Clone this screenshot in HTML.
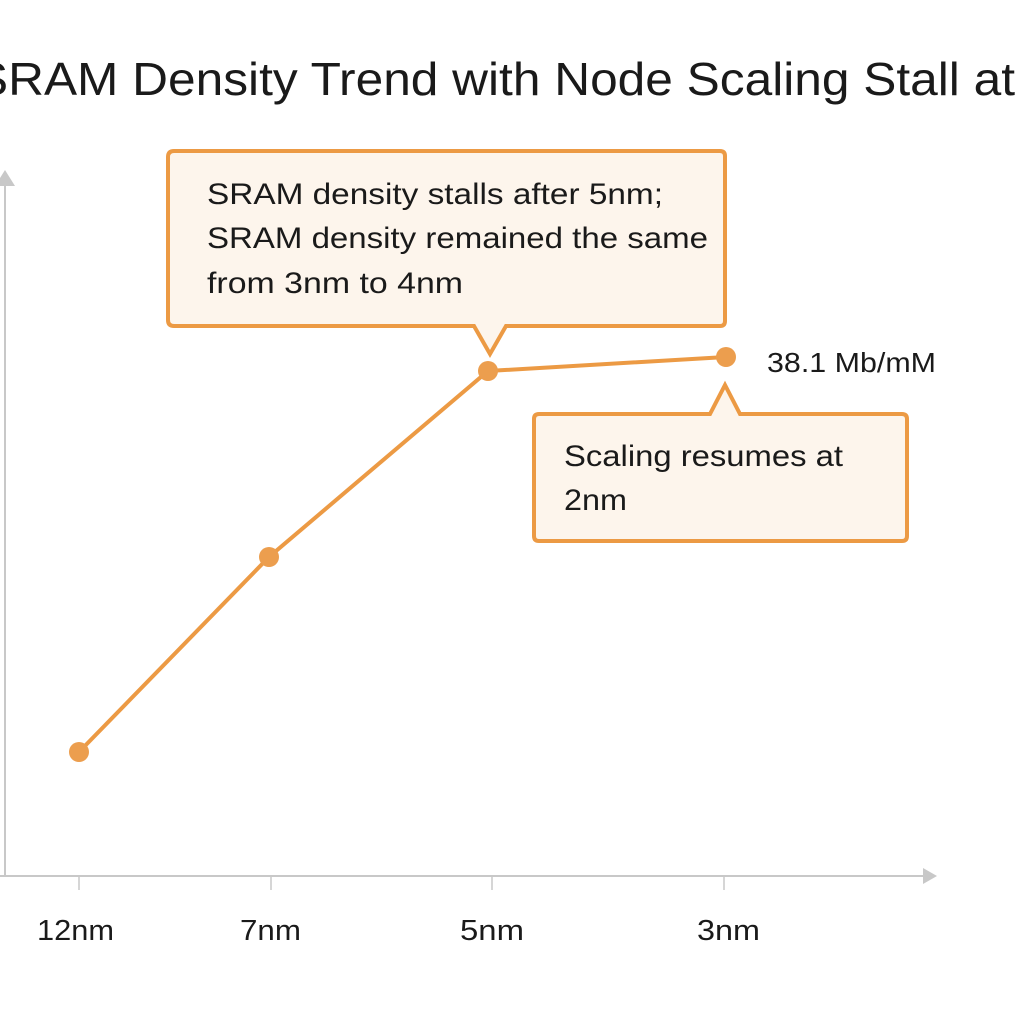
<!DOCTYPE html>
<html><head><meta charset="utf-8"><style>
html,body{margin:0;padding:0;background:#fff;}
svg{display:block;}
text{font-family:"Liberation Sans",sans-serif;fill:#1a1a1a;}
</style></head><body>
<svg width="1024" height="1024" viewBox="0 0 1024 1024" xmlns="http://www.w3.org/2000/svg">
<rect width="1024" height="1024" fill="#fff"/>
<text x="-25" y="95" font-size="46" textLength="1040" lengthAdjust="spacingAndGlyphs" fill="#222">SRAM Density Trend with Node Scaling Stall at</text>
<!-- axes -->
<line x1="5" y1="178" x2="5" y2="876" stroke="#c8c8c8" stroke-width="2"/>
<polygon points="-5,186 5,170 15,186" fill="#c8c8c8"/>
<line x1="0" y1="876" x2="925" y2="876" stroke="#c8c8c8" stroke-width="2"/>
<polygon points="923,868 937,876 923,884" fill="#c8c8c8"/>
<g stroke="#c8c8c8" stroke-width="1.5">
<line x1="79" y1="876" x2="79" y2="890"/><line x1="271" y1="876" x2="271" y2="890"/>
<line x1="492" y1="876" x2="492" y2="890"/><line x1="724" y1="876" x2="724" y2="890"/>
</g>
<g font-size="29" lengthAdjust="spacingAndGlyphs">
<text x="37" y="940" textLength="77" lengthAdjust="spacingAndGlyphs">12nm</text>
<text x="240" y="940" textLength="61" lengthAdjust="spacingAndGlyphs">7nm</text>
<text x="460" y="940" textLength="64" lengthAdjust="spacingAndGlyphs">5nm</text>
<text x="697" y="940" textLength="63" lengthAdjust="spacingAndGlyphs">3nm</text>
</g>
<!-- line -->
<polyline points="79,752 269,557 488,371 726,357" fill="none" stroke="#ec9a44" stroke-width="4"/>
<g fill="#ec9e4e"><circle cx="79" cy="752" r="10"/><circle cx="269" cy="557" r="10"/><circle cx="488" cy="371" r="10"/><circle cx="726" cy="357" r="10"/></g>
<text x="767" y="372" font-size="28" textLength="169" lengthAdjust="spacingAndGlyphs">38.1 Mb/mM</text>
<!-- callout 1 -->
<path d="M174,151 H720 Q725,151 725,156 V321 Q725,326 720,326 H506 L490,354 L474,326 H174 Q168,326 168,320 V157 Q168,151 174,151 Z" fill="#fdf5ec" stroke="#ec9a44" stroke-width="4"/>
<g font-size="30"><text x="207" y="204" textLength="456" lengthAdjust="spacingAndGlyphs">SRAM density stalls after 5nm;</text>
<text x="207" y="248" textLength="501" lengthAdjust="spacingAndGlyphs">SRAM density remained the same</text>
<text x="207" y="293" textLength="256" lengthAdjust="spacingAndGlyphs">from 3nm to 4nm</text></g>
<!-- callout 2 -->
<path d="M539,414 H710 L725,385 L740,414 H902 Q907,414 907,419 V536 Q907,541 902,541 H539 Q534,541 534,536 V419 Q534,414 539,414 Z" fill="#fdf5ec" stroke="#ec9a44" stroke-width="4"/>
<g font-size="30"><text x="564" y="466" textLength="279" lengthAdjust="spacingAndGlyphs">Scaling resumes at</text><text x="564" y="510" textLength="63" lengthAdjust="spacingAndGlyphs">2nm</text></g>
</svg>
</body></html>
